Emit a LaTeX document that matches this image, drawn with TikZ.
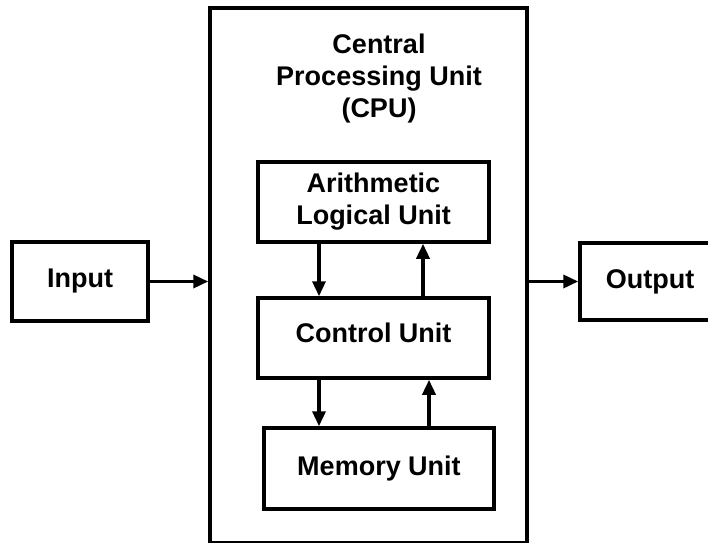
\documentclass[tikz,border=0pt]{standalone}
\usepackage{fontspec}
\setmainfont{Liberation Sans}
\usetikzlibrary{arrows.meta}
\tikzset{
  caja/.style={draw, line width=3.5pt, inner sep=0pt, align=center,
    font=\bfseries\fontsize{27}{32}\selectfont},
  flecha/.style={line width=3.5pt, -{Triangle[length=15pt, width=13pt]}}
}
\begin{document}
\begin{tikzpicture}[x=1pt, y=1pt]
  \useasboundingbox (0,0) rectangle (708,542);
  % la CPU y su título
  \node[caja, minimum width=317pt, minimum height=535pt] (cpu) at (368.5,266.5) {};
  \node[align=center, font=\bfseries\fontsize{27}{32}\selectfont] (titulo) at (379,463) {Central\\Processing Unit\\(CPU)};
  % la entrada y la salida
  \node[caja, minimum width=136pt, minimum height=79pt] (in) at (80,260.5) {Input};
  \node[caja, minimum width=140pt, minimum height=77pt] (out) at (650,260.5) {Output};
  % las unidades de dentro
  \node[caja, minimum width=231pt, minimum height=80pt] (alu) at (373.5,340) {Arithmetic\\Logical Unit};
  \node[caja, minimum width=231pt, minimum height=80pt, text depth=10pt] (cu) at (373.5,204) {Control Unit};
  \node[caja, minimum width=230pt, minimum height=81pt] (mem) at (379,73.5) {Memory Unit};
  % las flechas
  \draw[flecha] (in.east) -- (in.east -| cpu.west);
  \draw[flecha] (cpu.east |- out.west) -- (out.west);
  \draw[flecha] ([xshift=-54.5pt]alu.south) -- ([xshift=-54.5pt]alu.south |- cu.north);
  \draw[flecha] ([xshift=49.5pt]cu.north) -- ([xshift=49.5pt]cu.north |- alu.south);
  \draw[flecha] ([xshift=-54.5pt]cu.south) -- ([xshift=-54.5pt]cu.south |- mem.north);
  \draw[flecha] ([xshift=50pt]mem.north) -- ([xshift=50pt]mem.north |- cu.south);
\end{tikzpicture}
\end{document}
